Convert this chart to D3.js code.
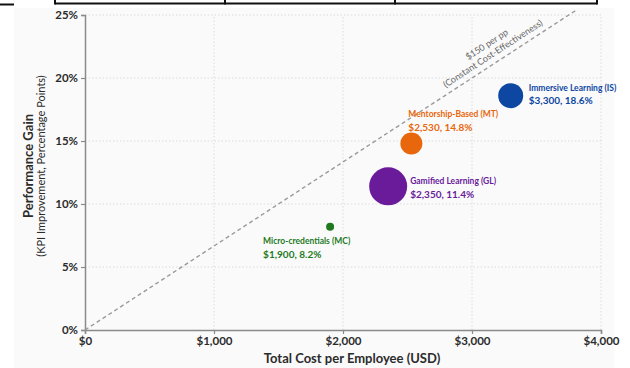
<!DOCTYPE html>
<html>
<head>
<meta charset="utf-8">
<script src="https://cdn.jsdelivr.net/npm/d3@7/dist/d3.min.js"></script>
<style>
  html, body { margin: 0; padding: 0; background: #ffffff; }
  svg { display: block; }
  .narrow { font-family: Lato, "Liberation Sans Narrow", sans-serif; }
</style>
</head>
<body>
<svg id="chart" width="630" height="368"></svg>
<script>
// Training programmes: cost per employee vs. KPI improvement
const programs = ["Micro-credentials (MC)", "Gamified Learning (GL)", "Mentorship-Based (MT)", "Immersive Learning (IS)"];
const costs = [1900, 2350, 2530, 3300];
const gains = [8.2, 11.4, 14.8, 18.6];
const participants = [62, 1400, 470, 605];
const colors = ["#1f7a1f", "#6a1b9a", "#e8670c", "#0d47a1"];

const xTicks = [0, 1000, 2000, 3000, 4000];
const yTicks = [0, 5, 10, 15, 20, 25];
const costPerPoint = 150;

const svg = d3.select("#chart");
const W = 630, H = 368;
const margin = { left: 85, right: 29, top: 15, bottom: 38 };

// page panel and a strip of table border above the chart
svg.append("rect").attr("x", 14).attr("y", 8).attr("width", 600).attr("height", 360).attr("fill", "#fafafa");
const tbl = svg.append("g").attr("stroke", "#111").attr("stroke-width", 2).attr("fill", "none");
tbl.append("line").attr("x1", 55).attr("x2", 597).attr("y1", 3.5).attr("y2", 3.5);
tbl.append("line").attr("x1", 0).attr("x2", 14).attr("y1", 4.5).attr("y2", 4.5);
[55, 225, 395, 597].forEach(x => tbl.append("line").attr("x1", x).attr("x2", x).attr("y1", 0).attr("y2", 4.5));

const x = d3.scaleLinear().domain([0, 4000]).range([margin.left, W - margin.right]);
const y = d3.scaleLinear().domain([0, 25]).range([H - margin.bottom, margin.top]);
const r = d3.scaleSqrt().domain([0, 1400]).range([0, 19]);

// dotted gridlines
const grid = svg.append("g").attr("stroke", "#dcdcdc").attr("stroke-width", 1).attr("stroke-dasharray", "1.5,2");
yTicks.slice(1).forEach(t => grid.append("line").attr("x1", x(0)).attr("x2", x(4000)).attr("y1", y(t)).attr("y2", y(t)));
xTicks.slice(1).forEach(t => grid.append("line").attr("x1", x(t)).attr("x2", x(t)).attr("y1", y(0)).attr("y2", y(25)));

// axes
const xAxis = svg.append("g").attr("transform", `translate(0,${y(0)})`)
  .call(d3.axisBottom(x).tickValues(xTicks).tickSize(4).tickPadding(3).tickFormat(d => "$" + d3.format(",")(d)));
const yAxis = svg.append("g").attr("transform", `translate(${x(0)},0)`)
  .call(d3.axisLeft(y).tickValues(yTicks).tickSize(4).tickPadding(3).tickFormat(d => d + "%"));
[xAxis, yAxis].forEach(a => {
  a.select(".domain").attr("stroke", "#8a8a8a").attr("stroke-width", 1.5);
  a.selectAll(".tick line").attr("stroke", "#8a8a8a").attr("stroke-width", 1.2);
  a.selectAll(".tick text").attr("class", "narrow").attr("fill", "#2b2b2b")
    .style("font-size", "11.5px").style("font-weight", "bold");
});

// constant cost-effectiveness reference line
const refEnd = 3800;
svg.append("line")
  .attr("x1", x(0)).attr("y1", y(0))
  .attr("x2", x(refEnd)).attr("y2", y(refEnd / costPerPoint))
  .attr("stroke", "#9a9a9a").attr("stroke-width", 1.4).attr("stroke-dasharray", "4,3");
const ang = Math.atan2(y(refEnd / costPerPoint) - y(0), x(refEnd) - x(0)) * 180 / Math.PI;
const lx = x(3200), ly = y(3200 / costPerPoint);
const refLbl = svg.append("g").attr("transform", `translate(${lx},${ly}) rotate(${ang})`)
  .attr("class", "narrow").attr("fill", "#666").style("font-size", "9px").attr("text-anchor", "middle");
refLbl.append("text").attr("x", 0).attr("y", -17).text(`$${costPerPoint} per pp`);
refLbl.append("text").attr("x", 0).attr("y", -6).text("(Constant Cost-Effectiveness)");

// bubbles
const data = programs.map((p, i) => ({ name: p, cost: costs[i], gain: gains[i], n: participants[i], color: colors[i] }));
svg.append("g").selectAll("circle").data(data).join("circle")
  .attr("cx", d => x(d.cost)).attr("cy", d => y(d.gain)).attr("r", d => r(d.n))
  .attr("fill", d => d.color);

// annotation placement relative to each bubble
const labelPos = [
  { dx: -67, dy1: 17, dy2: 31 },
  { dx: 22, dy1: -2, dy2: 12 },
  { dx: -3, dy1: -27, dy2: -13 },
  { dx: 18, dy1: -5, dy2: 8 }
];
const lbl = svg.append("g").attr("class", "narrow").style("font-weight", "bold");
data.forEach((d, i) => {
  const p = labelPos[i];
  lbl.append("text").attr("x", x(d.cost) + p.dx).attr("y", y(d.gain) + p.dy1)
    .attr("fill", d.color).style("font-size", "8.5px").text(d.name);
  lbl.append("text").attr("x", x(d.cost) + p.dx).attr("y", y(d.gain) + p.dy2)
    .attr("fill", d.color).style("font-size", "10px")
    .text("$" + d3.format(",")(d.cost) + ", " + d3.format(".1f")(d.gain) + "%");
});

// axis titles
svg.append("text").attr("class", "narrow").attr("x", 352).attr("y", 363)
  .attr("text-anchor", "middle").attr("fill", "#2b2b2b")
  .style("font-size", "13px").style("font-weight", "bold").text("Total Cost per Employee (USD)");
const yt = svg.append("g").attr("class", "narrow").attr("transform", "translate(0,166) rotate(-90)").attr("text-anchor", "middle");
yt.append("text").attr("x", 0).attr("y", 33).attr("fill", "#2b2b2b")
  .style("font-size", "13px").style("font-weight", "bold")
  .text("Performance Gain");
yt.append("text").attr("x", 0).attr("y", 45).attr("fill", "#2b2b2b")
  .style("font-size", "11px")
  .text("(KPI Improvement, Percentage Points)");
</script>
</body>
</html>
